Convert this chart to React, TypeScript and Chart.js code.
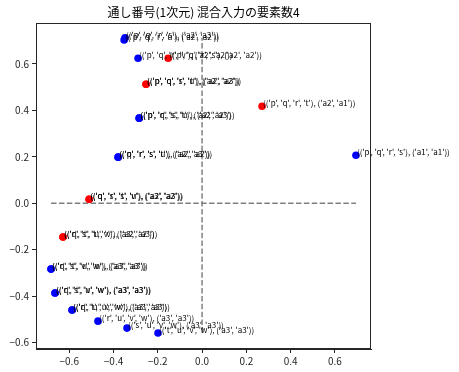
import { useEffect, useRef } from "react";
import { Chart, registerables } from "chart.js";

Chart.register(...registerables);

const titleText = "通し番号(1次元) 混合入力の要素数4";

const pointX = [
  -0.348, -0.352, -0.289, -0.153, -0.253, -0.253, 0.271, -0.284, -0.284, -0.379, -0.379, 0.695,
  -0.51, -0.51, -0.628, -0.628, -0.682, -0.682, -0.664, -0.664, -0.587, -0.587, -0.47, -0.339, -0.199,
];
const pointY = [
  0.712, 0.703, 0.624, 0.624, 0.512, 0.512, 0.417, 0.366, 0.366, 0.198, 0.198, 0.206,
  0.017, 0.017, -0.146, -0.146, -0.284, -0.284, -0.387, -0.387, -0.46, -0.46, -0.508, -0.538, -0.559,
];
const pointGroup = [
  "b", "b", "b", "r", "r", "r", "r", "b", "b", "b", "b", "b",
  "r", "r", "r", "r", "b", "b", "b", "b", "b", "b", "b", "b", "b",
];
const pointLabels = [
  "(('p', 'q', 'r', 's'), ('a2', 'a3'))",
  "(('p', 'q', 'r', 'u'), ('a2', 'a2'))",
  "(('p', 'q', 'r', 'v'), ('a2', 'a2'))",
  "(('p', 'q', 'r', 's'), ('a2', 'a2'))",
  "(('p', 'q', 'r', 'u'), ('a2', 'a3'))",
  "(('p', 'q', 's', 't'), ('a2', 'a2'))",
  "(('p', 'q', 'r', 't'), ('a2', 'a1'))",
  "(('p', 'q', 's', 'u'), ('a2', 'a3'))",
  "(('p', 'r', 's', 't'), ('a2', 'a2'))",
  "(('q', 'r', 's', 't'), ('a2', 'a3'))",
  "(('p', 'r', 's', 'u'), ('a2', 'a2'))",
  "(('p', 'q', 'r', 's'), ('a1', 'a1'))",
  "(('q', 'r', 's', 'u'), ('a2', 'a3'))",
  "(('q', 's', 't', 'v'), ('a3', 'a2'))",
  "(('q', 't', 'u', 'v'), ('a2', 'a3'))",
  "(('r', 's', 't', 'v'), ('a3', 'a2'))",
  "(('q', 't', 'u', 'w'), ('a3', 'a3'))",
  "(('r', 's', 'v', 'w'), ('a3', 'a3'))",
  "(('q', 't', 'v', 'w'), ('a3', 'a3'))",
  "(('r', 's', 'u', 'w'), ('a3', 'a3'))",
  "(('q', 'u', 'v', 'w'), ('a3', 'a3'))",
  "(('r', 't', 'u', 'w'), ('a3', 'a3'))",
  "(('r', 'u', 'v', 'w'), ('a3', 'a3'))",
  "(('s', 'u', 'v', 'w'), ('a3', 'a3'))",
  "(('t', 'u', 'v', 'w'), ('a3', 'a3'))",
];

const xTicks = [-0.6, -0.4, -0.2, 0.0, 0.2, 0.4, 0.6];
const yTicks = [-0.6, -0.4, -0.2, 0.0, 0.2, 0.4, 0.6];
const xRange = [-0.75, 0.763];
const yRange = [-0.628, 0.774];

const FONT = "'Noto Sans CJK JP', 'Noto Sans', sans-serif";

const fmt = (v: number) => v.toFixed(1).replace("-", "\u2212");

export default function App() {
  const ref = useRef<HTMLCanvasElement | null>(null);

  useEffect(() => {
    document.body.style.margin = "0";
    const canvas = ref.current;
    if (!canvas) return;

    const pts = pointX.map((x, i) => ({ x, y: pointY[i], g: pointGroup[i], label: pointLabels[i] }));
    const minX = Math.min(...pointX);
    const maxX = Math.max(...pointX);
    const minY = Math.min(...pointY);
    const maxY = Math.max(...pointY);

    const framePlugin = {
      id: "frame",
      afterDraw(chart: any) {
        const { ctx, chartArea } = chart;
        ctx.save();
        ctx.strokeStyle = "#262626";
        ctx.lineWidth = 1;
        ctx.strokeRect(
          Math.round(chartArea.left) + 0.5,
          Math.round(chartArea.top) + 0.5,
          Math.round(chartArea.right - chartArea.left) - 1,
          Math.round(chartArea.bottom - chartArea.top) - 1
        );
        ctx.restore();
      },
    };

    const labelPlugin = {
      id: "pointLabels",
      afterDatasetsDraw(chart: any) {
        const { ctx } = chart;
        const xs = chart.scales.x;
        const ys = chart.scales.y;
        ctx.save();
        ctx.font = `8px ${FONT}`;
        ctx.fillStyle = "#000";
        ctx.textAlign = "left";
        ctx.textBaseline = "alphabetic";
        pts.forEach((p) => {
          const px = xs.getPixelForValue(p.x);
          const py = ys.getPixelForValue(p.y);
          ctx.fillText(p.label, px + 1, py);
        });
        ctx.restore();
      },
    };

    const chart = new Chart(canvas, {
      type: "scatter",
      data: {
        datasets: [
          {
            data: pts.filter((p) => p.g === "b").map((p) => ({ x: p.x, y: p.y })),
            backgroundColor: "#0000ff",
            borderColor: "#0000ff",
            pointRadius: 3.8,
            borderWidth: 0,
            order: 2,
          },
          {
            data: pts.filter((p) => p.g === "r").map((p) => ({ x: p.x, y: p.y })),
            backgroundColor: "#ff0000",
            borderColor: "#ff0000",
            pointRadius: 3.8,
            borderWidth: 0,
            order: 1,
          },
          {
            data: [
              { x: minX, y: 0 },
              { x: maxX, y: 0 },
            ],
            showLine: true,
            borderColor: "#808080",
            borderWidth: 1.5,
            borderDash: [5.5, 2.4],
            pointRadius: 0,
            order: 10,
          },
          {
            data: [
              { x: 0, y: minY },
              { x: 0, y: maxY },
            ],
            showLine: true,
            borderColor: "#808080",
            borderWidth: 1.5,
            borderDash: [5.5, 2.4],
            pointRadius: 0,
            order: 10,
          },
        ],
      },
      options: {
        responsive: false,
        animation: false,
        layout: { padding: { left: 0, right: 88, top: 0, bottom: 0 } },
        plugins: {
          legend: { display: false },
          tooltip: { enabled: false },
          title: {
            display: true,
            text: titleText,
            fullSize: false,
            color: "#000",
            font: { family: FONT, size: 12, weight: "normal" },
            padding: { top: 5, bottom: 4 },
          },
        },
        scales: {
          x: {
            type: "linear",
            min: xRange[0],
            max: xRange[1],
            afterBuildTicks: (s: any) => {
              s.ticks = xTicks.map((v) => ({ value: v }));
            },
            afterFit: (s: any) => {
              s.height = 23;
            },
            grid: {
              display: true,
              drawOnChartArea: false,
              drawTicks: true,
              tickLength: 4,
              color: "#262626",
            },
            border: { display: true, color: "#262626" },
            ticks: {
              color: "#262626",
              padding: 2,
              maxRotation: 0,
              autoSkip: false,
              font: { family: FONT, size: 10 },
              callback: (v: any) => fmt(Number(v)),
            },
          },
          y: {
            type: "linear",
            min: yRange[0],
            max: yRange[1],
            afterBuildTicks: (s: any) => {
              s.ticks = yTicks.map((v) => ({ value: v }));
            },
            afterFit: (s: any) => {
              s.width = 36;
            },
            grid: {
              display: true,
              drawOnChartArea: false,
              drawTicks: true,
              tickLength: 4,
              color: "#262626",
            },
            border: { display: true, color: "#262626" },
            ticks: {
              color: "#262626",
              padding: 3,
              autoSkip: false,
              font: { family: FONT, size: 10 },
              callback: (v: any) => fmt(Number(v)),
            },
          },
        },
      },
      plugins: [framePlugin, labelPlugin],
    });

    return () => chart.destroy();
  }, []);

  return <canvas ref={ref} width={459} height={372} style={{ display: "block" }} />;
}
